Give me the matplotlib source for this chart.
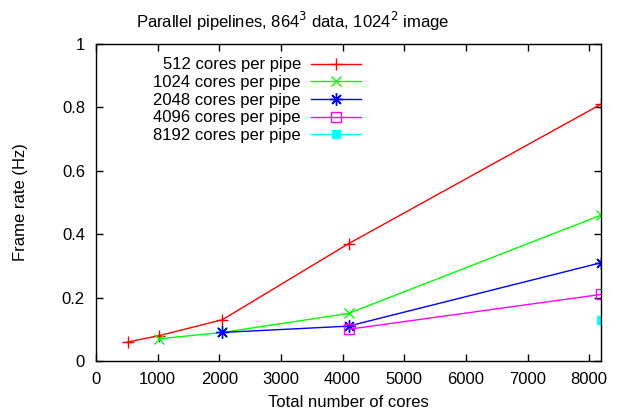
import matplotlib
matplotlib.use("Agg")
import matplotlib.pyplot as plt

plt.rcParams['font.family'] = ['Liberation Sans', 'DejaVu Sans']

x512 = [512, 1024, 2048, 4096, 8192]
y512 = [0.06, 0.08, 0.13, 0.37, 0.81]
x1024 = [1024, 2048, 4096, 8192]
y1024 = [0.07, 0.09, 0.15, 0.46]
x2048 = [2048, 4096, 8192]
y2048 = [0.09, 0.11, 0.31]
x4096 = [4096, 8192]
y4096 = [0.10, 0.21]
x8192 = [8192]
y8192 = [0.13]

labels = ["512 cores per pipe", "1024 cores per pipe", "2048 cores per pipe",
          "4096 cores per pipe", "8192 cores per pipe"]
xticks = [0, 1000, 2000, 3000, 4000, 5000, 6000, 7000, 8000]
yticks = [0, 0.2, 0.4, 0.6, 0.8, 1]
ytick_labels = ["0", "0.2", "0.4", "0.6", "0.8", "1"]

fig = plt.figure(figsize=(6.19, 4.13), dpi=100)
ax = fig.add_axes([96/619, 52/413, 505/619, 317/413])

ax.plot(x512, y512, color='#ff0000', lw=1, marker='+', ms=8, mew=1, label=labels[0])
ax.plot(x1024, y1024, color='#00ff00', lw=1, marker='x', ms=7, mew=1, label=labels[1])
ax.plot(x2048, y2048, color='#0000ff', lw=1, marker=(8, 2, 0), ms=9, mew=1, label=labels[2])
ax.plot(x4096, y4096, color='#ff00ff', lw=1, marker='s', ms=7, mew=1, mfc='none', label=labels[3])
ax.plot(x8192, y8192, color='#00ffff', lw=1, marker='s', ms=6, mew=1, label=labels[4])

ax.set_xlim(0, 8192)
ax.set_ylim(0, 1)
ax.set_xticks(xticks)
ax.set_yticks(yticks)
ax.set_yticklabels(ytick_labels)
ax.tick_params(direction='in', top=True, right=True, length=5, width=1, labelsize=12, pad=8)
for s in ax.spines.values():
    s.set_linewidth(1)

ax.set_xlabel("Total number of cores", fontsize=12, labelpad=6)
ax.set_ylabel("Frame rate (Hz)", fontsize=12, labelpad=24)
fig.text(293/619, 1 - 21/413, "Parallel pipelines, 864$^3$ data, 1024$^2$ image",
         fontsize=12, ha='center', va='center')

leg = ax.legend(loc='upper left', bbox_to_anchor=(0.087, 1.0), frameon=False,
                markerfirst=False, fontsize=12, handlelength=3.0,
                labelspacing=0.16, handletextpad=0.6, borderaxespad=0.4)

fig.savefig("out.png", dpi=100)
